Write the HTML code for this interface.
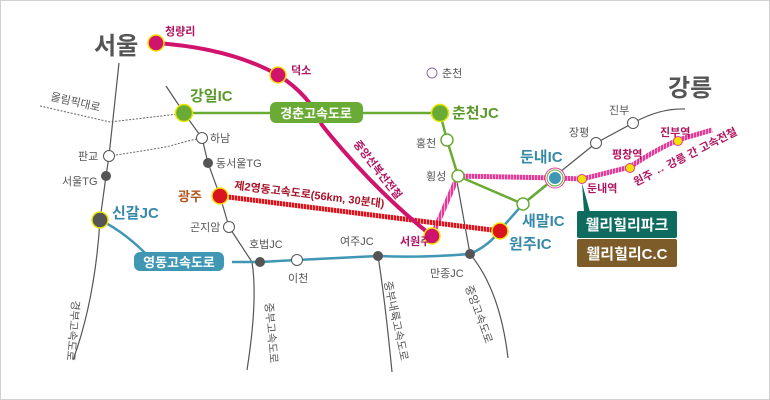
<!DOCTYPE html>
<html><head><meta charset="utf-8"><style>
body{margin:0;background:#fff}
svg{display:block}
text{font-family:"Liberation Sans","Noto Sans CJK KR",sans-serif}
</style></head><body>
<svg width="770" height="400" viewBox="0 0 770 400" xmlns="http://www.w3.org/2000/svg">
<defs>
<pattern id="hp" width="3" height="3" patternUnits="userSpaceOnUse"><rect width="3" height="3" fill="#e23c9a"/><rect width="1" height="3" fill="#f7a9d3"/></pattern>
<pattern id="hr" width="3" height="3" patternUnits="userSpaceOnUse"><rect width="3" height="3" fill="#d9141e"/><rect width="1" height="3" fill="#f59a9a"/></pattern>
</defs>
<rect x="0.5" y="0.5" width="769" height="399" fill="#fff" stroke="#d0d0d0"/>
<g fill="none" stroke="#555" stroke-width="1.2">
<path d="M119,63 L109,156 L106,176 L100,220 Q95,300 73,360"/>
<path d="M166,86 L184,113 L202,138 L208,163 L220,196 L229,227 L252,262 Q258,300 247,370"/>
<path d="M378,256 Q385,300 392,372"/>
<path d="M456,176 L470,254 Q500,290 508,358"/>
<path d="M560,172 L596,143 L633,123 Q660,108 685,109"/>
</g>
<g fill="none" stroke="#666" stroke-width="1" stroke-dasharray="2,1.5">
<path d="M40,106 L110,122 L178,114"/>
<path d="M109,156 Q150,150 170,146 Q190,140 202,138"/>
</g>
<path d="M100,220 Q125,232 150,258 M232,262 L260,262 L297,260 L378,256 Q420,258 470,254 Q490,245 500,230 L523,204 L555,178" fill="none" stroke="#3f97b4" stroke-width="2.5"/>
<path d="M184,113 L440,113 L447,140 L458,176 L523,204 L555,178" fill="none" stroke="#6aab35" stroke-width="2.5"/>
<path d="M458,176 L555,178 L582,179 L630,167 Q655,150 678,140 L712,130" fill="none" stroke="url(#hp)" stroke-width="5"/>
<path d="M458,176 L432,236" fill="none" stroke="url(#hp)" stroke-width="5"/>
<path d="M220,196 L500,231" fill="none" stroke="url(#hr)" stroke-width="5"/>
<path d="M156,43 Q230,48 278,75 Q310,95 322,125 L330,135 Q380,195 432,236" fill="none" stroke="#d0146e" stroke-width="4"/>
<rect x="270" y="102" width="93" height="21" rx="6" fill="#6aab35"/>
<text x="316" y="118" font-size="13" font-weight="bold" fill="#fff" text-anchor="middle">경춘고속도로</text>
<rect x="134" y="252" width="90" height="19" rx="6" fill="#3f97b4"/>
<text x="179" y="267" font-size="13" font-weight="bold" fill="#fff" text-anchor="middle">영동고속도로</text>
<g stroke-width="1.5">
<circle cx="156" cy="43" r="8" fill="#d0146e" stroke="#f2e300"/>
<circle cx="278" cy="75" r="8" fill="#d0146e" stroke="#f2e300"/>
<circle cx="432" cy="236" r="8" fill="#d0146e" stroke="#f2e300"/>
<circle cx="184" cy="113" r="8.5" fill="#6aab35" stroke="#e6e600"/>
<circle cx="440" cy="113" r="8.5" fill="#6aab35" stroke="#e6e600"/>
<circle cx="220" cy="196" r="8" fill="#d9141e" stroke="#f2e300"/>
<circle cx="500" cy="231" r="8" fill="#d9141e" stroke="#f2e300"/>
<circle cx="100" cy="220" r="8" fill="#555" stroke="#e6e600"/>
<circle cx="555" cy="178" r="10" fill="#fff" stroke="#e23c9a" stroke-width="1"/>
<circle cx="555" cy="178" r="8" fill="#fff" stroke="#6aab35" stroke-width="1"/>
<circle cx="555" cy="178" r="6" fill="#3f97b4" stroke="none"/>
<circle cx="582" cy="179" r="4.5" fill="#f2e300" stroke="#e23c9a" stroke-width="1"/>
<circle cx="630" cy="168" r="4.5" fill="#f2e300" stroke="#e23c9a" stroke-width="1"/>
<circle cx="678" cy="141" r="4.5" fill="#f2e300" stroke="#e23c9a" stroke-width="1"/>
<circle cx="447" cy="140" r="6" fill="#fff" stroke="#6aab35"/>
<circle cx="458" cy="176" r="6" fill="#fff" stroke="#6aab35"/>
<circle cx="523" cy="204" r="6" fill="#fff" stroke="#6aab35"/>
<circle cx="432" cy="73" r="5" fill="#fff" stroke="#8a6fa8" stroke-width="1"/>
<circle cx="109" cy="156" r="5.5" fill="#fff" stroke="#555" stroke-width="1"/>
<circle cx="202" cy="138" r="5.5" fill="#fff" stroke="#555" stroke-width="1"/>
<circle cx="229" cy="227" r="5.5" fill="#fff" stroke="#555" stroke-width="1"/>
<circle cx="297" cy="260" r="5.5" fill="#fff" stroke="#555" stroke-width="1"/>
<circle cx="596" cy="143" r="5.5" fill="#fff" stroke="#555" stroke-width="1"/>
<circle cx="633" cy="123" r="5.5" fill="#fff" stroke="#555" stroke-width="1"/>
<circle cx="106" cy="176" r="5" fill="#555" stroke="none"/>
<circle cx="208" cy="163" r="5" fill="#555" stroke="none"/>
<circle cx="260" cy="262" r="5" fill="#555" stroke="none"/>
<circle cx="378" cy="256" r="5" fill="#555" stroke="none"/>
<circle cx="470" cy="254" r="5" fill="#555" stroke="none"/>
</g>
<path d="M582,183 L584,212 L590,212 Z" fill="#0f6b5e"/>
<rect x="577" y="211" width="100" height="27" rx="2" fill="#0f6b5e"/>
<rect x="577" y="239" width="100" height="28" rx="2" fill="#7d5c2a"/>
<text x="627" y="230" font-size="15" font-weight="bold" fill="#fff" text-anchor="middle">웰리힐리파크</text>
<text x="627" y="259" font-size="15" font-weight="bold" fill="#fff" text-anchor="middle">웰리힐리C.C</text>
<text x="94" y="54" font-size="24" font-weight="bold" fill="#555">서울</text>
<text x="668" y="96" font-size="24" font-weight="bold" fill="#555">강릉</text>
<g font-size="11" font-weight="bold" fill="#b0135f">
<text x="165" y="35">청량리</text>
<text x="291" y="74">덕소</text>
<text x="400" y="245">서원주</text>
<text x="587" y="192">둔내역</text>
<text x="612" y="158">평창역</text>
<text x="660" y="136">진부역</text>
</g>
<text x="190" y="101" font-size="15" font-weight="bold" fill="#5a9a2a">강일IC</text>
<text x="452" y="118" font-size="15" font-weight="bold" fill="#5a9a2a">춘천JC</text>
<text x="520" y="162" font-size="15" font-weight="bold" fill="#3689a8">둔내IC</text>
<text x="522" y="226" font-size="15" font-weight="bold" fill="#3689a8">새말IC</text>
<text x="509" y="249" font-size="15" font-weight="bold" fill="#3689a8">원주IC</text>
<text x="112" y="218" font-size="15" font-weight="bold" fill="#3689a8">신갈JC</text>
<text x="178" y="201" font-size="13" font-weight="bold" fill="#b2561e">광주</text>
<g font-size="11" fill="#555">
<text x="442" y="77">춘천</text>
<text x="210" y="142">하남</text>
<text x="216" y="167">동서울TG</text>
<text x="78" y="160">판교</text>
<text x="62" y="185">서울TG</text>
<text x="190" y="231">곤지암</text>
<text x="249" y="248">호법JC</text>
<text x="288" y="282">이천</text>
<text x="340" y="245">여주JC</text>
<text x="430" y="277">만종JC</text>
<text x="416" y="147">홍천</text>
<text x="426" y="180">횡성</text>
<text x="569" y="136">장평</text>
<text x="609" y="114">진부</text>
<text transform="translate(50,100) rotate(13)">올림픽대로</text>
</g>
<g font-size="11" fill="#555">
<text transform="translate(72,300) rotate(95)">경부고속도로</text>
<text transform="translate(265,303) rotate(85)">중부고속도로</text>
<text transform="translate(384,282) rotate(78)">중부내륙고속도로</text>
<text transform="translate(465,287) rotate(70)">중앙고속도로</text>
</g>
<text transform="translate(234,189) rotate(7)" font-size="11" font-weight="bold" fill="#a8142a">제2영동고속도로(56km, 30분대)</text>
<text transform="translate(353,144) rotate(52)" font-size="11" font-weight="bold" fill="#b0135f">중앙선복선전철</text>
<text transform="translate(636,186) rotate(-27)" font-size="11" font-weight="bold" fill="#b0135f">원주 ↔ 강릉 간 고속전철</text>
</svg>
</body></html>
